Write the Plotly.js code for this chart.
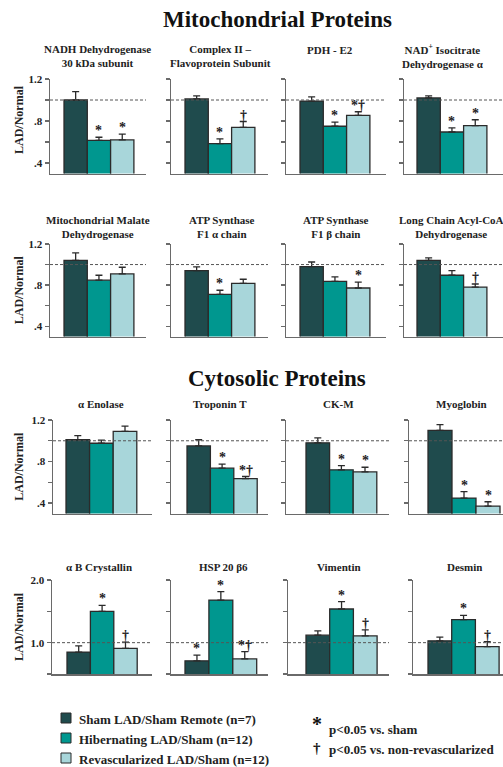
<!DOCTYPE html>
<html>
<head>
<meta charset="utf-8">
<script src="https://cdn.plot.ly/plotly-3.0.1.min.js"></script>
<style>
  html, body { margin: 0; padding: 0; background: #fff; }
  #chart { width: 503px; height: 767px; }
</style>
</head>
<body>
<div id="chart"></div>
<script>
// ---------------- DATA ----------------
const groups = ['Sham LAD/Sham Remote (n=7)', 'Hibernating LAD/Sham (n=12)', 'Revascularized LAD/Sham (n=12)'];

const sectionTitles = ['Mitochondrial Proteins', 'Cytosolic Proteins'];

const proteins = [
  'NADH Dehydrogenase<br>30 kDa subunit',
  'Complex II –<br>Flavoprotein Subunit',
  'PDH - E2',
  'NAD<sup>+</sup> Isocitrate<br>Dehydrogenase α',
  'Mitochondrial Malate<br>Dehydrogenase',
  'ATP Synthase<br>F1 α chain',
  'ATP Synthase<br>F1 β chain',
  'Long Chain Acyl-CoA<br>Dehydrogenase',
  'α Enolase',
  'Troponin T',
  'CK-M',
  'Myoglobin',
  'α B Crystallin',
  'HSP 20 β6',
  'Vimentin',
  'Desmin'
];

const shamMean = [1.00, 1.01, 0.99, 1.02, 1.04, 0.94, 0.98, 1.04, 1.01, 0.95, 0.98, 1.10, 0.85, 0.71, 1.12, 1.03];
const shamErr  = [0.08, 0.03, 0.04, 0.02, 0.073, 0.038, 0.045, 0.025, 0.04, 0.06, 0.048, 0.055, 0.10, 0.09, 0.068, 0.06];
const hibMean  = [0.615, 0.585, 0.75, 0.695, 0.848, 0.71, 0.836, 0.896, 0.976, 0.736, 0.72, 0.448, 1.50, 1.68, 1.537, 1.367];
const hibErr   = [0.03, 0.045, 0.04, 0.04, 0.048, 0.04, 0.045, 0.045, 0.03, 0.04, 0.04, 0.063, 0.095, 0.133, 0.117, 0.07];
const revMean  = [0.62, 0.74, 0.853, 0.755, 0.909, 0.817, 0.772, 0.781, 1.091, 0.636, 0.70, 0.371, 0.91, 0.74, 1.107, 0.936];
const revErr   = [0.055, 0.055, 0.035, 0.057, 0.065, 0.04, 0.057, 0.03, 0.05, 0.02, 0.045, 0.042, 0.10, 0.117, 0.096, 0.08];

const shamSig = ['', '', '', '', '', '', '', '', '', '', '', '', '', '*', '', ''];
const hibSig  = ['*', '*', '*', '*', '', '*', '', '', '', '*', '*', '*', '*', '*', '*', '*'];
const revSig  = ['*', '†', '*†', '*', '', '', '*', '†', '', '*†', '*', '*', '†', '*†', '†', '†'];

const sigLegend = [['*', 'p<0.05 vs. sham'], ['†', 'p<0.05 vs. non-revascularized']];

const yTicksTop = [0.4, 0.8, 1.2];
const yTickTextTop = ['.4', '.8', '1.2'];
const yMinorTop = [0.6, 1.0];
const yTicksBottom = [1.0, 2.0];
const yTickTextBottom = ['1.0', '2.0'];
const yMinorBottom = [0.5, 1.5];

// ---------------- STYLE / LAYOUT ----------------
const colors = ['#1f4b4d', '#00978f', '#a8d6da'];
const W = 503, H = 767;
const FONT = 'Liberation Serif, Times New Roman, serif';
const px = x => x / W;
const py = y => 1 - y / H;

// [top px, bottom px] of each row's plot area
const rowY = [[79, 173.5], [244, 336.5], [420, 513.5], [580, 674]];
// per panel: [axis x, first bar left x, axis end x, bar width]
const colGeom = [
  [[50, 64, 146, 23.3], [171, 185, 268, 23.3], [286, 300, 386, 23.3], [404, 417, 503, 23.3]],
  [[50, 64, 146, 23.3], [171, 185, 268, 23.3], [286, 300, 386, 23.3], [404, 417, 503, 23.3]],
  [[53, 66, 152, 23.6], [171, 187, 268, 23.4], [286, 306, 389, 23.6], [409, 428, 503, 24.0]],
  [[52, 67, 152, 23.4], [171, 185, 268, 23.9], [288, 306, 389, 23.7], [413, 428, 503, 23.7]]
];
// panel title centres [x, y]
const titlePos = [
  [[97, 56.5], [220, 56.5], [330, 50], [443, 56.5]],
  [[98, 226.5], [222, 226.5], [336, 226.5], [451, 226.5]],
  [[101, 404], [220, 404], [338, 404], [461, 404]],
  [[99, 567], [223, 567], [339, 567], [464, 567]]
];

const traces = [];
const shapes = [];
const annotations = [];
const layout = {
  width: W, height: H,
  margin: {l: 0, r: 0, t: 0, b: 0},
  paper_bgcolor: '#fff', plot_bgcolor: 'rgba(0,0,0,0)',
  showlegend: false,
  bargap: 0,
  font: {family: FONT, color: '#222'}
};

for (let k = 0; k < 16; k++) {
  const r = Math.floor(k / 4), c = k % 4;
  const n = k + 1;
  const xa = n === 1 ? 'x' : 'x' + n;
  const ya = n === 1 ? 'y' : 'y' + n;
  const [x0, b0, x1, bw] = colGeom[r][c];
  const [yt, yb] = rowY[r];
  const isBottom = r === 3;

  const means = [shamMean[k], hibMean[k], revMean[k]];
  const errs = [shamErr[k], hibErr[k], revErr[k]];
  const sigs = [shamSig[k], hibSig[k], revSig[k]];

  traces.push({
    type: 'bar',
    x: [0, 1, 2],
    y: means,
    width: 1,
    name: proteins[k],
    xaxis: xa, yaxis: ya,
    marker: {color: colors, line: {color: '#2b2b2b', width: 1.3}},
    error_y: {type: 'data', symmetric: false, array: errs, arrayminus: [0, 0, 0],
              color: '#2b2b2b', thickness: 1.3, width: 3.5},
    hoverinfo: 'skip'
  });

  layout['xaxis' + (n === 1 ? '' : n)] = {
    domain: [px(x0), px(x1)],
    anchor: ya,
    range: [-0.5 - (b0 - x0) / bw, -0.5 + (x1 - b0) / bw],
    showticklabels: false, ticks: '', showgrid: false, zeroline: false,
    showline: true, linecolor: '#6a6a6a', linewidth: 1.5, fixedrange: true
  };
  layout['yaxis' + (n === 1 ? '' : n)] = {
    domain: [py(yb), py(yt)],
    anchor: xa,
    range: isBottom ? [0.5, 2.0] : [0.3, 1.2],
    tickmode: 'array',
    tickvals: isBottom ? yTicksBottom : yTicksTop,
    ticktext: isBottom ? yTickTextBottom : yTickTextTop,
    showticklabels: c === 0,
    tickfont: {family: FONT, size: 11, color: '#222', weight: 'bold'},
    ticks: 'outside', ticklen: 4, tickwidth: 1.3, tickcolor: '#6a6a6a',
    minor: {tickmode: 'array', tickvals: isBottom ? yMinorBottom : yMinorTop,
            ticks: 'outside', ticklen: 4, tickwidth: 1.3, tickcolor: '#6a6a6a', showgrid: false},
    showgrid: false, zeroline: false,
    showline: true, linecolor: '#6a6a6a', linewidth: 1.5, fixedrange: true
  };

  // dashed reference line at 1.0
  shapes.push({
    type: 'line', xref: xa + ' domain', yref: ya,
    x0: 0, x1: 1, y0: 1.0, y1: 1.0,
    line: {color: '#555', width: 1, dash: '3px,2px'}
  });

  // significance marks
  for (let j = 0; j < 3; j++) {
    if (sigs[j]) {
      annotations.push({
        xref: xa, yref: ya, x: j, y: means[j] + errs[j],
        text: '<b>' + sigs[j] + '</b>', showarrow: false, xanchor: 'center', yanchor: 'bottom',
        yshift: -3, font: {family: FONT, size: 14, color: '#222'}
      });
    }
  }

  // panel title
  annotations.push({
    xref: 'paper', yref: 'paper', x: px(titlePos[r][c][0]), y: py(titlePos[r][c][1]),
    text: '<b>' + proteins[k] + '</b>', showarrow: false,
    xanchor: 'center', yanchor: 'middle',
    font: {family: FONT, size: 11, color: '#222'}
  });

  // y axis title on first column
  if (c === 0) {
    annotations.push({
      xref: 'paper', yref: 'paper', x: px(19), y: py(r === 0 ? 120 : (yt + yb) / 2),
      text: '<b>LAD/Normal</b>', showarrow: false, textangle: -90,
      xanchor: 'center', yanchor: 'middle',
      font: {family: FONT, size: 12, color: '#222'}
    });
  }
}

// section titles
annotations.push({
  xref: 'paper', yref: 'paper', x: px(277), y: py(20),
  text: '<b>' + sectionTitles[0] + '</b>', showarrow: false,
  xanchor: 'center', yanchor: 'middle', font: {family: FONT, size: 23, color: '#111'}
});
annotations.push({
  xref: 'paper', yref: 'paper', x: px(277), y: py(378),
  text: '<b>' + sectionTitles[1] + '</b>', showarrow: false,
  xanchor: 'center', yanchor: 'middle', font: {family: FONT, size: 23, color: '#111'}
});

// group legend (swatches + labels)
const legY = [718, 738, 758];
for (let i = 0; i < 3; i++) {
  shapes.push({
    type: 'rect', xref: 'paper', yref: 'paper',
    x0: px(61), x1: px(71), y0: py(legY[i] + 5), y1: py(legY[i] - 5),
    fillcolor: colors[i], line: {color: '#2b2b2b', width: 1}
  });
  annotations.push({
    xref: 'paper', yref: 'paper', x: px(77), y: py(legY[i] + 1),
    text: '<b>' + groups[i] + '</b>', showarrow: false,
    xanchor: 'left', yanchor: 'middle', font: {family: FONT, size: 13, color: '#222'}
  });
}

// significance legend
const symY = [[724, 20], [748, 15]];
const txtY = [729, 749];
for (let i = 0; i < 2; i++) {
  annotations.push({
    xref: 'paper', yref: 'paper', x: px(317), y: py(symY[i][0]),
    text: '<b>' + sigLegend[i][0] + '</b>', showarrow: false,
    xanchor: 'center', yanchor: 'middle', font: {family: FONT, size: symY[i][1], color: '#111'}
  });
  annotations.push({
    xref: 'paper', yref: 'paper', x: px(327), y: py(txtY[i]),
    text: '<b>' + sigLegend[i][1] + '</b>', showarrow: false,
    xanchor: 'left', yanchor: 'middle', font: {family: FONT, size: 13, color: '#222'}
  });
}

layout.shapes = shapes;
layout.annotations = annotations;

Plotly.newPlot('chart', traces, layout, {displayModeBar: false, staticPlot: true});
</script>
</body>
</html>
